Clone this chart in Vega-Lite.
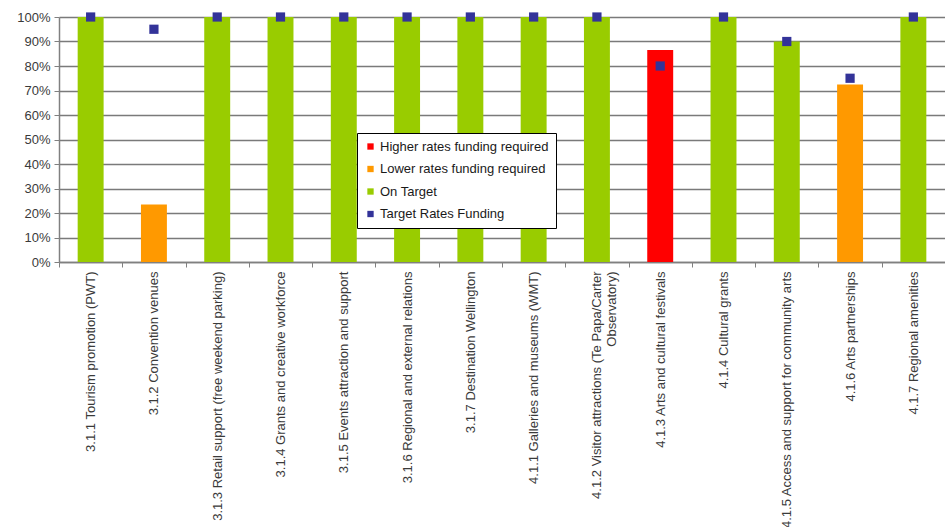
{
  "$schema": "https://vega.github.io/schema/vega-lite/v6.json",
  "autosize": {"type": "none"},
  "width": 886,
  "height": 245,
  "padding": {"left": 59, "top": 17, "right": 0, "bottom": 265},
  "background": "white",
  "config": {
    "font": "Liberation Sans",
    "view": {"stroke": null}
  },
  "data": {
    "values": [
      {"item": "3.1.1 Tourism promotion (PWT)", "actual": 1.0, "target": 1.0, "status": "On Target"},
      {"item": "3.1.2 Convention venues", "actual": 0.235, "target": 0.95, "status": "Lower rates funding required"},
      {"item": "3.1.3 Retail support (free weekend parking)", "actual": 1.0, "target": 1.0, "status": "On Target"},
      {"item": "3.1.4 Grants and creative workforce", "actual": 1.0, "target": 1.0, "status": "On Target"},
      {"item": "3.1.5 Events attraction and support", "actual": 1.0, "target": 1.0, "status": "On Target"},
      {"item": "3.1.6 Regional and external relations", "actual": 1.0, "target": 1.0, "status": "On Target"},
      {"item": "3.1.7 Destination Wellington", "actual": 1.0, "target": 1.0, "status": "On Target"},
      {"item": "4.1.1 Galleries and museums (WMT)", "actual": 1.0, "target": 1.0, "status": "On Target"},
      {"item": "4.1.2 Visitor attractions (Te Papa/Carter Observatory)", "actual": 1.0, "target": 1.0, "status": "On Target"},
      {"item": "4.1.3 Arts and cultural festivals", "actual": 0.865, "target": 0.8, "status": "Higher rates funding required"},
      {"item": "4.1.4 Cultural grants", "actual": 1.0, "target": 1.0, "status": "On Target"},
      {"item": "4.1.5 Access and support for community arts", "actual": 0.9, "target": 0.9, "status": "On Target"},
      {"item": "4.1.6 Arts partnerships", "actual": 0.725, "target": 0.75, "status": "Lower rates funding required"},
      {"item": "4.1.7 Regional amenities", "actual": 1.0, "target": 1.0, "status": "On Target"}
    ]
  },
  "encoding": {
    "x": {
      "field": "item",
      "type": "nominal",
      "sort": null,
      "scale": {"paddingInner": 0, "paddingOuter": 0},
      "axis": {
        "title": null,
        "labelAngle": -90,
        "labelAlign": "right",
        "labelBaseline": "middle",
        "labelFontSize": 13,
        "labelColor": "#3a3a3a",
        "labelLimit": 300,
        "labelPadding": 4,
        "labelOverlap": false,
        "tickBand": "extent",
        "tickSize": 5,
        "tickColor": "#808080",
        "domainColor": "#808080",
        "domainWidth": 1.5,
        "labelExpr": "datum.label == '4.1.2 Visitor attractions (Te Papa/Carter Observatory)' ? ['4.1.2 Visitor attractions (Te Papa/Carter', 'Observatory)'] : datum.label"
      }
    }
  },
  "layer": [
    {
      "mark": {"type": "bar", "width": {"band": 0.41}},
      "encoding": {
        "y": {
          "field": "actual",
          "type": "quantitative",
          "scale": {"domain": [0, 1], "nice": false},
          "axis": {
            "title": null,
            "format": ".0%",
            "values": [0, 0.1, 0.2, 0.3, 0.4, 0.5, 0.6, 0.7, 0.8, 0.9, 1.0],
            "labelOverlap": false,
            "grid": true,
            "gridColor": "#7a7a7a",
            "gridWidth": 1.5,
            "gridOpacity": 1,
            "tickSize": 5,
            "tickColor": "#808080",
            "domainColor": "#808080",
            "domainWidth": 1.5,
            "labelFontSize": 13,
            "labelColor": "#3a3a3a",
            "labelPadding": 4
          }
        },
        "color": {
          "field": "status",
          "type": "nominal",
          "scale": {
            "domain": ["Higher rates funding required", "Lower rates funding required", "On Target", "Target Rates Funding"],
            "range": ["#FF0000", "#FF9900", "#99CC00", "#333399"]
          },
          "legend": {
            "title": null,
            "orient": "none",
            "legendX": 298,
            "legendY": 116,
            "direction": "vertical",
            "symbolType": "square",
            "symbolSize": 40,
            "symbolStrokeWidth": 0,
            "labelFontSize": 13,
            "labelColor": "#1a1a1a",
            "labelLimit": 300,
            "rowPadding": 8.5,
            "padding": 7,
            "strokeColor": "#000000",
            "fillColor": "#ffffff",
            "labelOffset": 3
          }
        }
      }
    },
    {
      "mark": {"type": "point", "shape": "square", "filled": true, "size": 85, "opacity": 1},
      "encoding": {
        "y": {
          "field": "target",
          "type": "quantitative",
          "axis": {
            "title": null,
            "format": ".0%",
            "values": [0, 0.1, 0.2, 0.3, 0.4, 0.5, 0.6, 0.7, 0.8, 0.9, 1.0],
            "labelOverlap": false,
            "grid": true,
            "gridColor": "#7a7a7a",
            "gridWidth": 1.5,
            "gridOpacity": 1,
            "tickSize": 5,
            "tickColor": "#808080",
            "domainColor": "#808080",
            "domainWidth": 1.5,
            "labelFontSize": 13,
            "labelColor": "#3a3a3a",
            "labelPadding": 4
          }
        },
        "color": {"datum": "Target Rates Funding"}
      }
    }
  ]
}
